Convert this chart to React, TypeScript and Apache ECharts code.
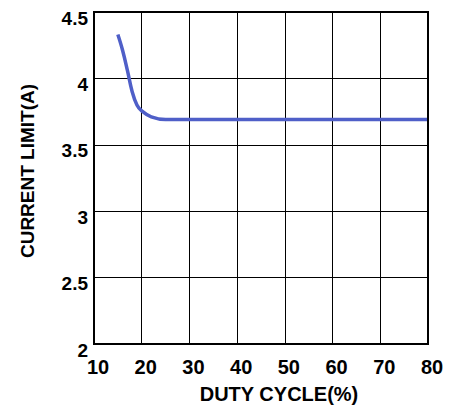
import React, { useEffect, useRef } from "react";
import * as echarts from "echarts";

const dutyCycle = [15, 16, 17, 18, 19, 20, 22, 25, 30, 80];
const currentLimit = [4.33, 4.21, 4.06, 3.9, 3.8, 3.755, 3.71, 3.69, 3.69, 3.69];
const xTicks = [10, 20, 30, 40, 50, 60, 70, 80];
const yTicks = [2, 2.5, 3, 3.5, 4, 4.5];
const xTitle = "DUTY CYCLE(%)";
const yTitle = "CURRENT LIMIT(A)";

export default function App() {
  const ref = useRef<HTMLDivElement>(null);
  useEffect(() => {
    const chart = echarts.init(ref.current!, null, { renderer: "svg" });
    const font = "'Liberation Sans', Arial, sans-serif";
    chart.setOption({
      animation: false,
      grid: { left: 94, top: 12, right: 27, bottom: 65, outerBoundsMode: "none", containLabel: false },
      xAxis: {
        type: "value",
        min: xTicks[0],
        max: xTicks[xTicks.length - 1],
        interval: 10,
        axisLine: { show: false },
        axisTick: { show: false },
        splitLine: { show: true, lineStyle: { color: "#000", width: 1 } },
        axisLabel: {
          fontFamily: font,
          fontWeight: "bold",
          fontSize: 20,
          lineHeight: 16,
          color: "#000",
          margin: 15,
          padding: [0, 0, 0, 8],
        },
      },
      yAxis: {
        type: "value",
        min: yTicks[0],
        max: yTicks[yTicks.length - 1],
        interval: 0.5,
        axisLine: { show: false },
        axisTick: { show: false },
        splitLine: { show: true, lineStyle: { color: "#000", width: 1 } },
        axisLabel: {
          fontFamily: font,
          fontWeight: "bold",
          fontSize: 19,
          lineHeight: 12,
          color: "#000",
          margin: 6,
          verticalAlign: "top",
        },
      },
      graphic: [
        {
          type: "rect",
          shape: { x: 94, y: 12, width: 334, height: 332 },
          style: { fill: "none", stroke: "#000", lineWidth: 2 },
          z: 10,
        },
        {
          type: "text",
          x: 279,
          y: 394,
          style: {
            text: xTitle,
            fontFamily: font,
            fontWeight: "bold",
            fontSize: 20,
            fill: "#000",
            align: "center",
            verticalAlign: "middle",
          },
        },
        {
          type: "text",
          x: 27,
          y: 171,
          rotation: Math.PI / 2,
          style: {
            text: yTitle,
            fontFamily: font,
            fontWeight: "bold",
            fontSize: 19,
            fill: "#000",
            align: "center",
            verticalAlign: "middle",
          },
        },
      ],
      series: [
        {
          type: "line",
          data: dutyCycle.map((x, i) => [x, currentLimit[i]]),
          smooth: 0.4,
          showSymbol: false,
          lineStyle: { color: "#4F5FC8", width: 3.5 },
          z: 5,
        },
      ],
    });
    return () => chart.dispose();
  }, []);
  return <div ref={ref} style={{ width: 455, height: 409, position: "absolute", left: 0, top: 0 }} />;
}
